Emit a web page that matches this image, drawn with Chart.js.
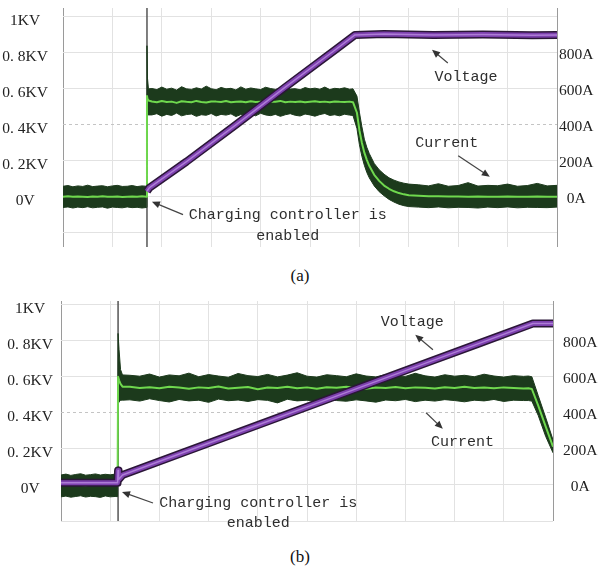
<!DOCTYPE html>
<html>
<head>
<meta charset="utf-8">
<script src="https://cdn.jsdelivr.net/npm/chart.js@4.4.0/dist/chart.umd.min.js"></script>
<style>
body { margin: 0; background: #fff; }
#wrap { position: relative; width: 607px; height: 570px; }
canvas { position: absolute; left: 0; }
.cap { position: absolute; left: 0; width: 600px; text-align: center; font: 17px 'Liberation Serif', serif; color: #111; line-height: 20px; }
</style>
</head>
<body>
<div id="wrap">
  <canvas id="chartA" width="607" height="258" style="top:0"></canvas>
  <div class="cap" style="top:266px">(a)</div>
  <canvas id="chartB" width="607" height="240" style="top:290px"></canvas>
  <div class="cap" style="top:547px">(b)</div>
</div>
<script>
// tick labels
const voltTicks = [0, 0.2, 0.4, 0.6, 0.8, 1.0];
const voltLabels = ['0V', '0. 2KV', '0. 4KV', '0. 6KV', '0. 8KV', '1KV'];
const ampTicks = [0, 200, 400, 600, 800];
const ampLabels = ['0A', '200A', '400A', '600A', '800A'];
const divTicks = [0, 1, 2, 3, 4, 5, 6, 7, 8, 9, 10];

// (a) time in divisions, current in A, voltage in KV
const aTrigger = 1.70;
const aTimeI = [0,0.1,0.2,0.3,0.4,0.5,0.6,0.7,0.8,0.9,1.0,1.1,1.2,1.3,1.4,1.5,1.6,1.69,
  1.70,1.71,1.73,
  1.8,1.9,2.0,2.1,2.2,2.3,2.4,2.5,2.6,2.7,2.8,2.9,3.0,3.1,3.2,3.3,3.4,3.5,3.6,3.7,
  3.8,3.9,4.0,4.1,4.2,4.3,4.4,4.5,4.6,4.7,4.8,4.9,5.0,5.1,5.2,5.3,5.4,5.5,5.6,5.7,5.8,
  5.87,5.95,6.0,6.05,6.1,6.15,6.2,6.3,6.4,6.5,6.6,6.7,6.8,6.9,7.0,
  7.2,7.4,7.6,7.8,8.0,8.2,8.4,8.6,8.8,9.0,9.2,9.4,9.6,9.8,10.0];
const aCurMid = [0,2,-1,1,0,-2,1,0,2,-1,0,1,-2,0,1,-1,2,0,
  560,545,535,
  530,525,532,527,529,522,531,528,526,533,527,524,530,529,527,532,525,528,530,526,
  531,527,529,524,530,528,533,526,529,527,530,525,528,531,527,529,526,530,528,527,529,
  526,467,370,300,245,205,172,122,88,62,44,30,20,13,8,
  5,3,2,1,1,0,1,0,0,1,0,0,1,0,0];
const aCurHi = [58,62,55,60,57,64,56,59,61,55,60,63,57,58,62,56,60,58,
  840,660,600,
  602,596,610,598,604,593,612,600,597,606,599,615,601,595,608,600,603,594,611,598,
  605,600,596,609,602,597,604,613,599,601,595,607,600,604,598,610,596,603,600,606,598,
  600,560,470,390,320,275,240,185,150,125,105,92,82,75,70,
  66,60,72,58,62,78,59,63,61,70,58,62,74,60,63];
const aCurLo = [-60,-57,-63,-58,-61,-56,-62,-59,-57,-64,-58,-60,-62,-57,-61,-59,-63,-60,
  450,455,455,
  455,462,448,458,452,465,450,457,460,447,456,453,463,449,458,454,461,446,457,452,
  459,450,464,455,451,458,447,456,462,453,449,460,455,448,457,463,452,456,450,459,454,
  452,380,290,225,175,135,105,60,28,5,-15,-30,-42,-50,-55,
  -58,-61,-57,-62,-59,-60,-63,-58,-61,-57,-62,-59,-60,-61,-58];
const aTimeV = [1.70, 1.75, 2.5, 3.5, 4.5, 5.5, 5.91, 6.5, 7.5, 8.5, 9.5, 10];
const aVolt = [0.03, 0.05, 0.195, 0.40, 0.61, 0.815, 0.90, 0.905, 0.90, 0.902, 0.898, 0.90];

// (b)
const bTrigger = 1.16;
const bTimeI = [0,0.1,0.2,0.3,0.4,0.5,0.6,0.7,0.8,0.9,1.0,1.1,1.15,
  1.16,1.18,1.21,1.25,
  1.4,1.6,1.8,2.0,2.2,2.4,2.6,2.8,3.0,3.2,3.4,3.6,3.8,4.0,4.2,4.4,4.6,4.8,5.0,5.2,
  5.4,5.6,5.8,6.0,6.2,6.4,6.6,6.8,7.0,7.2,7.4,7.6,7.8,8.0,8.2,8.4,8.6,8.8,9.0,9.2,9.4,
  9.5,9.57,
  9.7,9.85,10];
const bCurMid = [0,1,-1,2,0,-2,1,0,-1,2,0,1,0,
  600,580,560,545,
  545,538,542,536,544,540,533,541,537,546,535,539,543,531,540,538,544,536,541,534,
  542,539,545,537,533,540,538,543,536,541,539,535,542,538,544,537,540,536,541,538,535,
  536,532,
  440,325,212];
const bCurHi = [55,60,53,58,62,54,57,61,55,59,56,60,57,
  840,750,640,610,
  608,603,615,598,610,605,620,600,612,604,597,618,606,601,613,599,609,622,603,598,
  611,606,600,616,604,599,612,607,602,619,605,598,611,603,608,600,614,604,598,606,602,
  604,600,
  495,375,250];
const bCurLo = [-66,-62,-68,-64,-60,-67,-63,-65,-69,-61,-66,-64,-65,
  450,460,470,470,
  472,465,478,468,460,474,466,470,458,476,467,471,463,473,469,455,475,466,470,462,
  477,468,464,472,466,459,471,467,474,462,470,465,473,468,461,470,466,474,463,470,468,
  468,465,
  385,270,178];
const bTimeV = [0, 1.15, 1.16, 1.17, 1.25, 2.5, 4.0, 5.5, 7.0, 8.5, 9.59, 10];
const bVolt = [0.012, 0.012, 0.08, 0.03, 0.055, 0.181, 0.332, 0.483, 0.634, 0.785, 0.895, 0.895];

const pts = (xs, ys) => xs.map((x, i) => ({ x: x, y: ys[i] }));

// text + arrows, placed in data coords
const notesPlugin = {
  id: 'notes',
  afterDatasetsDraw(chart, args, opts) {
    const ctx = chart.ctx;
    const sx = chart.scales.x, sy = chart.scales.y;
    ctx.save();
    ctx.font = '15px "Liberation Mono", monospace';
    ctx.fillStyle = '#2e2e2e';
    ctx.textAlign = 'center';
    ctx.textBaseline = 'middle';
    (opts.texts || []).forEach(t => {
      ctx.fillText(t.text, sx.getPixelForValue(t.x), sy.getPixelForValue(t.y));
    });
    ctx.strokeStyle = '#444';
    ctx.fillStyle = '#333';
    ctx.lineWidth = 1.2;
    (opts.arrows || []).forEach(a => {
      const x1 = sx.getPixelForValue(a.from[0]), y1 = sy.getPixelForValue(a.from[1]);
      const x2 = sx.getPixelForValue(a.to[0]), y2 = sy.getPixelForValue(a.to[1]);
      const ang = Math.atan2(y2 - y1, x2 - x1);
      ctx.beginPath();
      ctx.moveTo(x1, y1);
      ctx.lineTo(x2 - 5 * Math.cos(ang), y2 - 5 * Math.sin(ang));
      ctx.stroke();
      ctx.beginPath();
      ctx.moveTo(x2, y2);
      ctx.lineTo(x2 - 8 * Math.cos(ang) + 3.5 * Math.sin(ang), y2 - 8 * Math.sin(ang) - 3.5 * Math.cos(ang));
      ctx.lineTo(x2 - 8 * Math.cos(ang) - 3.5 * Math.sin(ang), y2 - 8 * Math.sin(ang) + 3.5 * Math.cos(ang));
      ctx.closePath();
      ctx.fill();
    });
    ctx.restore();
  }
};

function makeChart(id, d) {
  const line = (data, color, width, axis, extra) => Object.assign({
    data: data, borderColor: color, borderWidth: width, pointRadius: 0,
    tension: 0, fill: false, yAxisID: axis, borderJoinStyle: 'round'
  }, extra || {});
  const volt = pts(d.timeV, d.volt);
  const tickFont = { family: 'Liberation Serif', size: 15.5 };

  return new Chart(document.getElementById(id), {
    type: 'line',
    data: {
      datasets: [
        line(volt, '#ad7dd6', 1.5, 'y'),
        line(volt, '#7d40ae', 5, 'y'),
        line(volt, '#2b1638', 8, 'y'),
        line(pts(d.timeI, d.mid), '#6fd84e', 2, 'y1'),
        line(pts(d.timeI, d.hi), '#1c3a1c', 1, 'y1', { fill: '+1', backgroundColor: '#1c3a1c' }),
        line(pts(d.timeI, d.lo), '#1c3a1c', 1, 'y1'),
        line([{ x: d.trigger, y: d.yMin }, { x: d.trigger, y: d.yMax }], '#555', 1.5, 'y')
      ]
    },
    options: {
      responsive: false,
      animation: false,
      layout: { padding: { top: d.padTop, bottom: d.padBottom, left: 0, right: 0 } },
      plugins: {
        legend: { display: false },
        tooltip: { enabled: false },
        notes: { texts: d.texts, arrows: d.arrows }
      },
      scales: {
        x: {
          type: 'linear', min: 0, max: 10,
          border: { display: false },
          grid: { drawTicks: false, color: c => (c.tick.value === 0 || c.tick.value === 10) ? '#9a9a9a' : '#e2e2e2' },
          ticks: { display: false },
          afterBuildTicks: s => { s.ticks = divTicks.map(v => ({ value: v })); },
          afterFit: s => { s.height = 0; s.paddingLeft = 0; s.paddingRight = 0; }
        },
        y: {
          position: 'left', min: d.yMin, max: d.yMax,
          border: { display: false, dash: c => (c.tick && c.tick.value === 0.4) ? [3, 3] : [] },
          grid: { drawTicks: false, color: c => c.tick.value === 0.4 ? '#c4c4c4' : '#e2e2e2' },
          ticks: {
            padding: d.leftPad, crossAlign: 'center', labelOffset: 4, color: '#222', font: tickFont,
            callback: v => { const i = voltTicks.indexOf(v); return i < 0 ? '' : voltLabels[i]; }
          },
          afterBuildTicks: s => { s.ticks = [-0.2].concat(voltTicks).map(v => ({ value: v })); },
          afterFit: s => { s.width = d.leftW; s.paddingTop = 0; s.paddingBottom = 0; }
        },
        y1: {
          position: 'right', min: d.yMin * 1000, max: d.yMax * 1000,
          border: { display: false },
          grid: { display: false, drawTicks: false },
          ticks: {
            padding: d.rightPad, crossAlign: 'center', labelOffset: 2, color: '#222', font: tickFont,
            callback: v => { const i = ampTicks.indexOf(v); return i < 0 ? '' : ampLabels[i]; }
          },
          afterBuildTicks: s => { s.ticks = ampTicks.map(v => ({ value: v })); },
          afterFit: s => { s.width = d.rightW; s.paddingTop = 0; s.paddingBottom = 0; }
        }
      }
    },
    plugins: [notesPlugin]
  });
}

makeChart('chartA', {
  timeI: aTimeI, mid: aCurMid, hi: aCurHi, lo: aCurLo,
  timeV: aTimeV, volt: aVolt, trigger: aTrigger,
  yMin: -0.28, yMax: 1.05,
  padTop: 8, padBottom: 11, leftW: 63, rightW: 50, leftPad: 15, rightPad: 2,
  texts: [
    { text: 'Charging controller is', x: 4.55, y: -0.10 },
    { text: 'enabled', x: 4.55, y: -0.217 },
    { text: 'Voltage', x: 8.16, y: 0.667 },
    { text: 'Current', x: 7.77, y: 0.30 }
  ],
  arrows: [
    { from: [2.43, -0.10], to: [1.80, -0.028] },
    { from: [7.79, 0.744], to: [7.47, 0.817] },
    { from: [8.0, 0.228], to: [8.64, 0.111] }
  ]
});

makeChart('chartB', {
  timeI: bTimeI, mid: bCurMid, hi: bCurHi, lo: bCurLo,
  timeV: bTimeV, volt: bVolt, trigger: bTrigger,
  yMin: -0.2, yMax: 1.02,
  padTop: 11, padBottom: 9, leftW: 61, rightW: 54, leftPad: 8, rightPad: 10,
  texts: [
    { text: 'Charging controller is', x: 4.01, y: -0.10 },
    { text: 'enabled', x: 4.01, y: -0.211 },
    { text: 'Voltage', x: 7.14, y: 0.906 },
    { text: 'Current', x: 8.16, y: 0.239 }
  ],
  arrows: [
    { from: [1.87, -0.10], to: [1.24, -0.039] },
    { from: [7.56, 0.75], to: [7.20, 0.833] },
    { from: [7.42, 0.40], to: [7.76, 0.311] }
  ]
});
</script>
</body>
</html>
